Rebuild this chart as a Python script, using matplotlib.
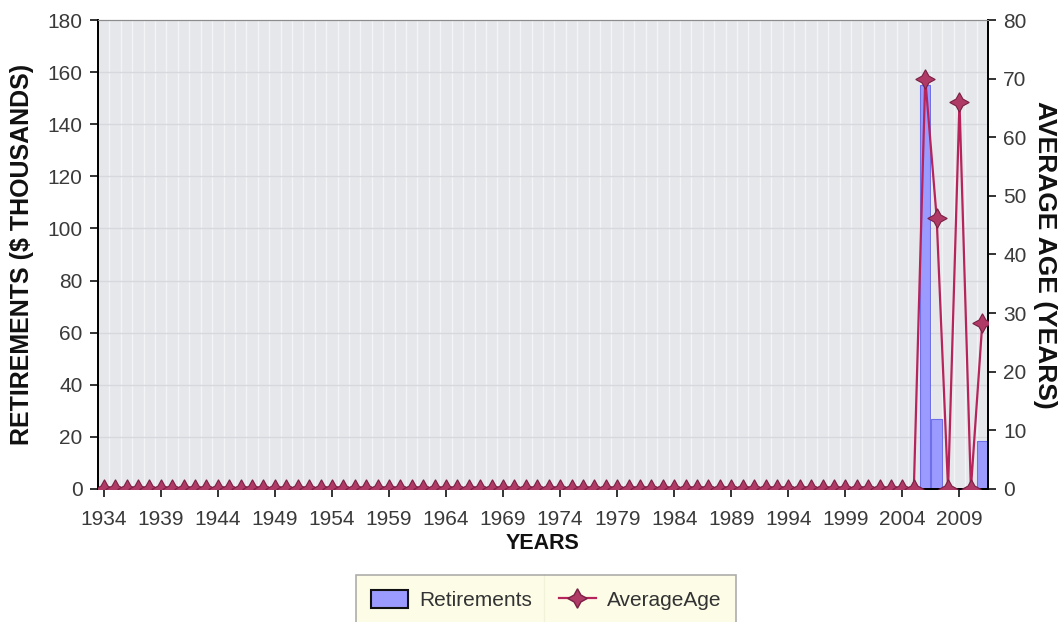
import numpy as np
import matplotlib.pyplot as plt
from matplotlib.lines import Line2D
from matplotlib.patches import Patch

# Data
years = list(range(1934, 2012))
retire_years = [2006, 2007, 2011]
retire_vals = [155, 27, 18.5]          # $ thousands
age_years = [2006, 2007, 2009, 2011]
age_vals = [70, 46.3, 66, 28.3]        # years

retirements = [retire_vals[retire_years.index(y)] if y in retire_years else 0 for y in years]
avg_age = [age_vals[age_years.index(y)] if y in age_years else 0 for y in years]

plt.rcParams['font.family'] = ['Liberation Sans', 'DejaVu Sans']

fig = plt.figure(figsize=(10.58, 6.22), dpi=100)
ax = fig.add_axes([98 / 1058, 1 - 489 / 622, 890 / 1058, 469 / 622])
ax2 = ax.twinx()

x = np.arange(len(years))

# Background and grid
ax.set_facecolor('#e5e7eb')
for xi in x:
    ax.axvline(xi - 0.5, color='#f3f4f6', lw=1.0, zorder=0)
for yv in range(20, 180, 20):
    ax.axhline(yv, color='#d6d8de', lw=1.0, zorder=0)

# Bars
ax.bar(x, retirements, width=0.92, color='#9b9bff', edgecolor='#6f6fe8', linewidth=0.8, zorder=2)

# Line with star markers
ax2.plot(x, avg_age, color='#b5245a', lw=1.6, marker=(4, 1, 0), markersize=14,
         markerfacecolor='#b03a66', markeredgecolor='#7a1f44', markeredgewidth=0.8, zorder=3)

ax.set_xlim(-0.5, len(years) - 0.5)
ax.set_ylim(0, 180)
ax2.set_ylim(0, 80)
ax.set_yticks(range(0, 181, 20))
ax2.set_yticks(range(0, 81, 10))
tick_idx = [years.index(y) for y in range(1934, 2010, 5)]
ax.set_xticks(tick_idx)
ax.set_xticklabels([str(years[i]) for i in tick_idx])

for a in (ax, ax2):
    a.tick_params(direction='out', length=6, width=1.2, labelsize=15, colors='#111111')
    a.spines['top'].set_color('#8c8c8c')
    a.spines['left'].set_linewidth(1.3)
    a.spines['right'].set_linewidth(1.3)
    a.spines['bottom'].set_linewidth(1.3)
for lab in ax.get_xticklabels() + ax.get_yticklabels() + ax2.get_yticklabels():
    lab.set_color('#3a3a3a')
ax.tick_params(axis='x', pad=9)
ax.tick_params(axis='y', pad=5)
ax2.tick_params(axis='y', pad=5)

ax.set_ylabel('RETIREMENTS ($ THOUSANDS)', fontsize=18, fontweight='bold', color='#111111', labelpad=10)
ax2.set_ylabel('AVERAGE AGE (YEARS)', fontsize=19, fontweight='bold', color='#111111',
               rotation=-90, labelpad=22)
ax.set_xlabel('YEARS', fontsize=15.5, fontweight='bold', color='#111111', labelpad=3)

handles = [Patch(facecolor='#9b9bff', edgecolor='#111111', linewidth=1.5),
           Line2D([0], [0], color='#b5245a', lw=1.6, marker=(4, 1, 0), markersize=14,
                  markerfacecolor='#b03a66', markeredgecolor='#7a1f44')]
leg = fig.legend(handles, ['Retirements', 'AverageAge'], loc='upper center',
                 bbox_to_anchor=(546 / 1058, 1 - 575 / 622), ncol=2, fontsize=15,
                 frameon=True, fancybox=False, facecolor='#fdfce2', edgecolor='#999999',
                 handlelength=1.8, handleheight=1.0, handletextpad=0.5, columnspacing=1.3,
                 borderpad=0.7, borderaxespad=0)
leg.get_frame().set_linewidth(1.2)
for t in leg.get_texts():
    t.set_color('#333333')

# divider between legend entries
fig.canvas.draw()
r = fig.canvas.get_renderer()
fb = leg.get_frame().get_window_extent(r)
tb = leg.get_texts()[0].get_window_extent(r)
xdiv = (tb.x1 + 12) / fig.bbox.width
fig.add_artist(Line2D([xdiv, xdiv], [fb.y0 / fig.bbox.height, fb.y1 / fig.bbox.height],
                      color='#c8c8b8', lw=1.0, transform=fig.transFigure))

fig.savefig('out.png', dpi=100)
